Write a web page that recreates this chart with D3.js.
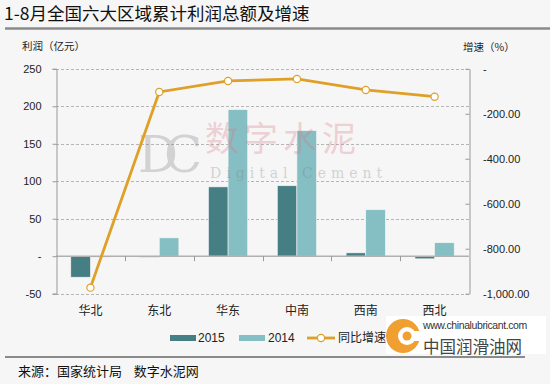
<!DOCTYPE html>
<html><head><meta charset="utf-8">
<script src="https://cdn.jsdelivr.net/npm/d3@7"></script>
<style>body{margin:0;background:#f6f6f6;}svg{display:block;}</style>
</head><body>
<script>
const categories = ["华北","东北","华东","中南","西南","西北"];
const profit2015 = [-28, -1, 92.5, 94, 4.5, -3.5];
const profit2014 = [-1, 24.5, 195.5, 167.5, 62, 18];
const growth = [-973, -103, -54, -45, -94, -124];
const leftTicks = [-50, 0, 50, 100, 150, 200, 250];
const leftTickLabels = ["-50","-","50","100","150","200","250"];
const rightTicks = [-1000, -800, -600, -400, -200, 0];
const rightTickLabels = ["-1,000.00","-800.00","-600.00","-400.00","-200.00","-"];
const seriesNames = ["2015","2014","同比增速"];

const W=550,H=384;
const svg=d3.select("body").append("svg").attr("width",W).attr("height",H);
svg.append("rect").attr("width",W).attr("height",H).attr("fill","#f6f6f6");
const font="'Liberation Sans', Arial, sans-serif";
const cjk="'Noto Sans CJK SC', sans-serif";

// title
svg.append("text").attr("x",4).attr("y",20).attr("font-family",cjk).attr("font-size",17.5).attr("fill","#111").text("1-8月全国六大区域累计利润总额及增速");
svg.append("line").attr("x1",5).attr("x2",550).attr("y1",28.5).attr("y2",28.5).attr("stroke","#8a8a8a").attr("stroke-width",2.5);

const x0=56,x1=469,yTop=68.8,yBot=293.7;
const x=d3.scaleBand().domain(categories).range([x0,x1]);
const y=d3.scaleLinear().domain([-50,250]).range([yBot,yTop]);
const y2=d3.scaleLinear().domain([-1000,0]).range([yBot,yTop]);

// gridlines
const g=svg.append("g");
leftTicks.forEach(t=>{
  if(t===0) return;
  g.append("line").attr("x1",x0).attr("x2",x1).attr("y1",Math.round(y(t))+0.5).attr("y2",Math.round(y(t))+0.5)
   .attr("stroke","#b5b5b5").attr("stroke-dasharray","3,2").attr("stroke-width",1);
});

// bars
const bw=x.bandwidth()*0.285;
const bars=svg.append("g");
categories.forEach((c,i)=>{
  const cx=x(c)+x.bandwidth()/2;
  [[profit2015[i],"#457f84",cx-bw],[profit2014[i],"#86bfc3",cx]].forEach(([v,col,bx])=>{
    bars.append("rect").attr("x",bx).attr("width",bw)
      .attr("y",Math.min(y(v),y(0))).attr("height",Math.max(Math.abs(y(v)-y(0)),1))
      .attr("fill",col).attr("stroke","#f6f6f6").attr("stroke-width",0.6);
  });
});

// watermark (drawn over bars, faint)
const wm=svg.append("g").attr("opacity",0.28);
wm.append("text").attr("x",138).attr("y",172).attr("font-family","'DejaVu Serif',serif").attr("font-size",50).attr("fill","#777").attr("letter-spacing",-14).text("DC");
wm.append("text").attr("x",205).attr("y",151).attr("font-family",cjk).attr("font-size",34).attr("fill","#d9707f").attr("letter-spacing",5).text("数字水泥");
wm.append("text").attr("x",210).attr("y",178).attr("font-family","'DejaVu Serif',serif").attr("font-size",14).attr("fill","#777").attr("letter-spacing",5).text("Digital Cement");

// zero line
svg.append("line").attr("x1",x0).attr("x2",x1).attr("y1",y(0)).attr("y2",y(0)).attr("stroke","#b0b0b0").attr("stroke-width",1.5);
// category ticks
d3.range(1,categories.length).forEach(k=>{
  const xx=Math.round(x0+k*x.step())+0.5;
  svg.append("line").attr("x1",xx).attr("x2",xx).attr("y1",y(0)).attr("y2",y(0)+5).attr("stroke","#999");
});

// left axis
const la=svg.append("g").attr("transform",`translate(${x0+0.5},0)`)
 .call(d3.axisLeft(y).tickValues(leftTicks).tickFormat((d,i)=>leftTickLabels[i]).tickSize(4).tickPadding(11));
la.select(".domain").attr("stroke","#999");
la.selectAll(".tick line").attr("stroke","#999");
la.selectAll("text").attr("font-family",font).attr("font-size",11).attr("fill","#222");

// right axis
const ra=svg.append("g").attr("transform",`translate(${x1+0.5},0)`)
 .call(d3.axisRight(y2).tickValues(rightTicks).tickFormat((d,i)=>rightTickLabels[i]).tickSizeInner(-4).tickSizeOuter(0).tickPadding(13.5));
ra.select(".domain").attr("stroke","#999");
ra.selectAll(".tick line").attr("stroke","#999");
ra.selectAll("text").attr("font-family",font).attr("font-size",11).attr("fill","#222").attr("text-anchor","start");

// category labels
categories.forEach(c=>{
  svg.append("text").attr("x",x(c)+x.bandwidth()/2).attr("y",315).attr("text-anchor","middle")
   .attr("font-family",cjk).attr("font-size",12).attr("fill","#222").text(c);
});

// axis titles
svg.append("text").attr("x",22).attr("y",50).attr("font-family",cjk).attr("font-size",10.5).attr("fill","#222").text("利润（亿元）");
svg.append("text").attr("x",463).attr("y",51).attr("font-family",cjk).attr("font-size",10.5).attr("fill","#222").text("增速（%）");

// line
const lineCol="#dfa027";
const pts=categories.map((c,i)=>[x(c)+x.bandwidth()/2,y2(growth[i])]);
svg.append("path").attr("d",d3.line()(pts)).attr("fill","none").attr("stroke",lineCol).attr("stroke-width",2.8);
pts.forEach(p=>svg.append("circle").attr("cx",p[0]).attr("cy",p[1]).attr("r",3.6).attr("fill","#fff").attr("stroke",lineCol).attr("stroke-width",1.2));

// legend
const lg=svg.append("g").attr("font-family",font).attr("font-size",12).attr("fill","#222");
lg.append("rect").attr("x",170).attr("y",335).attr("width",26).attr("height",6).attr("fill","#457f84");
lg.append("text").attr("x",198).attr("y",342).text(seriesNames[0]);
lg.append("rect").attr("x",239).attr("y",335).attr("width",26).attr("height",6).attr("fill","#86bfc3");
lg.append("text").attr("x",268).attr("y",342).text(seriesNames[1]);
lg.append("line").attr("x1",307).attr("x2",335).attr("y1",338).attr("y2",338).attr("stroke",lineCol).attr("stroke-width",2.8);
lg.append("circle").attr("cx",321).attr("cy",338).attr("r",3.6).attr("fill","#fff").attr("stroke",lineCol).attr("stroke-width",1.2);
lg.append("text").attr("x",338).attr("y",342).attr("font-family",cjk).attr("font-size",12).text(seriesNames[2]);

// footer line
svg.append("line").attr("x1",5).attr("x2",525).attr("y1",357).attr("y2",357).attr("stroke","#8a8a8a").attr("stroke-width",2);
svg.append("text").attr("x",18).attr("y",376).attr("font-family",cjk).attr("font-size",13).attr("fill","#111").attr("xml:space","preserve").text("来源：国家统计局    数字水泥网");

// logo
const lo=svg.append("g");
lo.append("rect").attr("x",386).attr("y",316).attr("width",160).attr("height",38).attr("fill","#fff");
lo.append("circle").attr("cx",403).attr("cy",336).attr("r",17).attr("fill","#f0a030");
lo.append("circle").attr("cx",407).attr("cy",336).attr("r",9).attr("fill","#fff");
lo.append("circle").attr("cx",407).attr("cy",336).attr("r",4.5).attr("fill","#f0a030");
lo.append("rect").attr("x",412).attr("y",331).attr("width",10).attr("height",10).attr("fill","#fff");
lo.append("text").attr("x",423).attr("y",329).attr("font-family","'Liberation Sans',Arial,sans-serif").attr("font-size",10.5).attr("fill","#333").attr("letter-spacing",-0.4).text("www.chinalubricant.com");
lo.append("text").attr("x",423).attr("y",353).attr("font-family",cjk).attr("font-size",16.5).attr("fill","#444").text("中国润滑油网");
</script>
</body></html>
